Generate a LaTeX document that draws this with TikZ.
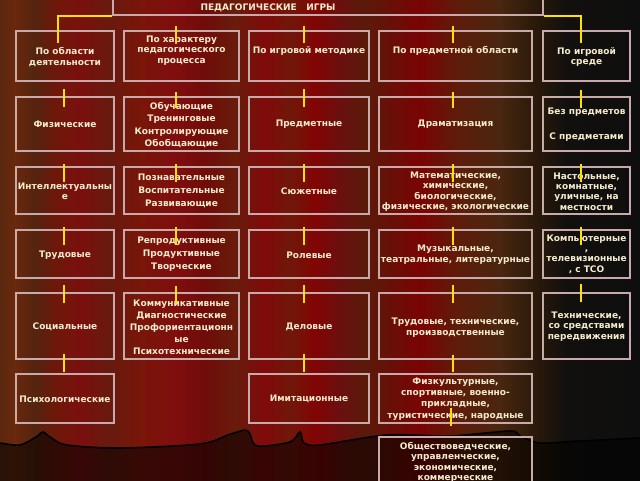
\documentclass[tikz,border=0pt]{standalone}
\usepackage{fontspec}
\newfontfamily\gfont{DejaVu Sans}
\definecolor{txtc}{RGB}{245,235,205}
\definecolor{boxc}{RGB}{200,170,170}
\definecolor{ylw}{RGB}{255,225,0}
\pgfdeclarehorizontalshading{curtain}{100bp}{rgb(0bp)=(.353,.157,.063); rgb(25bp)=(.353,.157,.063); rgb(26.17bp)=(.416,.157,.047); rgb(27.73bp)=(.329,.141,.063); rgb(29.30bp)=(.431,.094,.039); rgb(31.25bp)=(.478,.063,.055); rgb(33.59bp)=(.408,.102,.055); rgb(35.94bp)=(.471,.086,.039); rgb(38.67bp)=(.502,.055,.055); rgb(41.02bp)=(.439,.047,.039); rgb(43.36bp)=(.408,.110,.047); rgb(45.70bp)=(.502,.039,.039); rgb(47.66bp)=(.439,.094,.039); rgb(49.61bp)=(.510,.016,.016); rgb(51.56bp)=(.416,.063,.055); rgb(53.52bp)=(.353,.102,.039); rgb(57.81bp)=(.478,.016,.016); rgb(60.94bp)=(.361,.118,.039); rgb(64.06bp)=(.290,.149,.063); rgb(66.80bp)=(.165,.102,.039); rgb(69.14bp)=(.071,.063,.055); rgb(75bp)=(.055,.055,.055); rgb(100bp)=(.055,.055,.055)}
\tikzset{
  gbox/.style={draw=boxc, line width=0.8pt, inner sep=0pt},
  gtxt/.style={text=txtc, font=\gfont\bfseries\fontsize{6.75}{7.8}\selectfont, align=center, inner sep=0pt},
  listtxt/.style={text=txtc, font=\gfont\bfseries\fontsize{6.75}{9.6}\selectfont, align=center, inner sep=0pt},
  yl/.style={draw=ylw, line width=1.5pt},
  hem/.style={draw=black, line width=1.2pt},
}
\newcommand\gbox[5]{\node[gbox, minimum width={(#4-#2)*0.75pt}, minimum height={(#5-#3)*0.75pt}] (#1) at ({(#2+#4)/2},{(#3+#5)/2}) {};}
\newcommand\gtext[5][gtxt]{\node[#1] (#2) at (#3,#4) {#5};}
\begin{document}
\begin{tikzpicture}[x=0.75pt,y=-0.75pt]
\useasboundingbox (0,0) rectangle (640,480);
\clip (0,0) rectangle (640,480);
% background curtain
\shade[shading=curtain] (0,0) rectangle (640,480);
\fill[black, opacity=0.55] plot[smooth, tension=0.5] coordinates {(0,443) (20,445) (36,437) (43,432) (50,437) (67,445) (120,448) (200,444) (228,435) (245,430) (250,434) (257,446) (290,442) (300,432) (304,443) (320,445) (387,435) (450,436) (510,431) (520,436) (540,443) (580,441) (640,438)} -- (640,490) -- (0,490) -- cycle;
\draw[hem] plot[smooth, tension=0.5] coordinates {(0,443) (20,445) (36,437) (43,432) (50,437) (67,445) (120,448) (200,444) (228,435) (245,430) (250,434) (257,446) (290,442) (300,432) (304,443) (320,445) (387,435) (450,436) (510,431) (520,436) (540,443) (580,441) (640,438)};
% title
\gbox{title}{113}{-10}{543}{15}
\gtext{ttl}{268}{8}{ПЕДАГОГИЧЕСКИЕ\ \ \ ИГРЫ}
% boxes
\gbox{b11}{16}{31}{114}{81}
\gbox{b12}{124}{31}{239}{81}
\gbox{b13}{249}{31}{369}{81}
\gbox{b14}{379}{31}{532}{81}
\gbox{b15}{543}{31}{630}{81}
\gbox{b21}{16}{97}{114}{151}
\gbox{b22}{124}{97}{239}{151}
\gbox{b23}{249}{97}{369}{151}
\gbox{b24}{379}{97}{532}{151}
\gbox{b25}{543}{97}{630}{151}
\gbox{b31}{16}{167}{114}{214}
\gbox{b32}{124}{167}{239}{214}
\gbox{b33}{249}{167}{369}{214}
\gbox{b34}{379}{167}{532}{214}
\gbox{b35}{543}{167}{630}{214}
\gbox{b41}{16}{230}{114}{278}
\gbox{b42}{124}{230}{239}{278}
\gbox{b43}{249}{230}{369}{278}
\gbox{b44}{379}{230}{532}{278}
\gbox{b45}{543}{230}{630}{278}
\gbox{b51}{16}{293}{114}{359}
\gbox{b52}{124}{293}{239}{359}
\gbox{b53}{249}{293}{369}{359}
\gbox{b54}{379}{293}{532}{359}
\gbox{b55}{543}{293}{630}{359}
\gbox{b61}{16}{374}{114}{423}
\gbox{b63}{249}{374}{369}{423}
\gbox{b64}{379}{374}{532}{423}
\gbox{b74}{379}{437}{532}{495}
% texts
\gtext{t11}{65}{57}{По области\\деятельности}
\gtext[gtxt,font=\gfont\bfseries\fontsize{6.75}{7.9}\selectfont]{t12}{181.5}{50.5}{По характеру\\педагогического\\процесса}
\gtext{t13}{309}{51}{По игровой методике}
\gtext{t14}{455.5}{51}{По предметной области}
\gtext{t15}{586.5}{57}{По игровой\\среде}
\gtext{t21}{65}{124}{Физические}
\gtext[listtxt,font=\gfont\bfseries\fontsize{6.75}{9.4}\selectfont]{t22}{181.5}{125}{Обучающие\\Тренинговые\\Контролирующие\\Обобщающие}
\gtext{t23}{309}{124}{Предметные}
\gtext{t24}{455.5}{124}{Драматизация}
\gtext{t25}{586.5}{124.5}{Без предметов\\[11pt]С предметами}
\gtext{t31}{65}{191.5}{Интеллектуальны\\е}
\gtext[listtxt,font=\gfont\bfseries\fontsize{6.75}{9.75}\selectfont]{t32}{181.5}{191}{Познавательные\\Воспитательные\\Развивающие}
\gtext{t33}{309}{191}{Сюжетные}
\gtext{t34}{455.5}{191.5}{Математические,\\химические,\\биологические,\\физические, экологические}
\gtext{t35}{586.5}{191.5}{Настольные,\\комнатные,\\уличные, на\\местности}
\gtext{t41}{65}{255}{Трудовые}
\gtext[listtxt,font=\gfont\bfseries\fontsize{6.75}{9.75}\selectfont]{t42}{181.5}{254}{Репродуктивные\\Продуктивные\\Творческие}
\gtext{t43}{309}{255}{Ролевые}
\gtext[gtxt,font=\gfont\bfseries\fontsize{6.75}{8.2}\selectfont]{t44}{455.5}{254.5}{Музыкальные,\\театральные, литературные}
\gtext{t45}{586.5}{254}{Компьютерные\\,\\телевизионные\\, с ТСО}
\gtext{t51}{65}{327}{Социальные}
\gtext[listtxt,font=\gfont\bfseries\fontsize{6.75}{9}\selectfont]{t52}{181.5}{327}{Коммуникативные\\Диагностические\\Профориентационн\\ые\\Психотехнические}
\gtext{t53}{309}{327}{Деловые}
\gtext[gtxt,font=\gfont\bfseries\fontsize{6.75}{8.2}\selectfont]{t54}{455.5}{327.5}{Трудовые, технические,\\производственные}
\gtext{t55}{586.5}{326.5}{Технические,\\со средствами\\передвижения}
\gtext{t61}{65}{399}{Психологические}
\gtext{t63}{309}{399}{Имитационные}
\gtext[gtxt,font=\gfont\bfseries\fontsize{6.75}{8.5}\selectfont]{t64}{455.5}{399}{Физкультурные,\\спортивные, военно-\\прикладные,\\туристические, народные}
\gtext{t74}{455.5}{462.5}{Обществоведческие,\\управленческие,\\экономические,\\коммерческие}
% yellow connectors
\coordinate (c11) at (58,43);
\coordinate (c15) at (581,43);
\draw[yl] (title.south west) -| (c11);
\draw[yl] (title.south east) -| (c15);
\foreach \x/\a/\b in {176/26/43, 304/26/43, 453/26/43,
  64/89/107, 176/92/108, 304/89/107, 453/92/108, 581/90/108,
  64/164/182, 176/164/182, 304/164/182, 453/164/182, 581/164/182,
  64/227/245, 176/227/245, 304/227/245, 453/227/245, 581/227/245,
  64/285/303, 176/286/304, 304/285/303, 453/285/303, 581/284/302,
  64/354/372, 304/354/372, 453/355/372, 451/408/426}
  \draw[yl] (\x,\a) -- (\x,\b);
\end{tikzpicture}
\end{document}
